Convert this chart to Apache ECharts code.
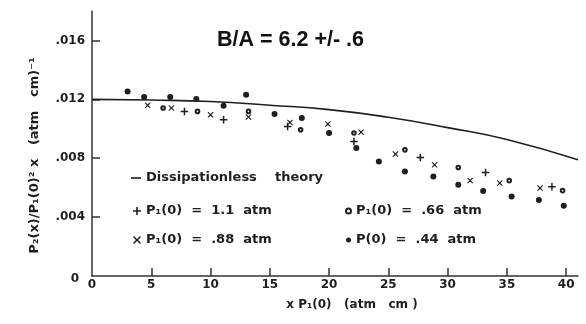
<!DOCTYPE html>
<html><head><meta charset="utf-8">
<script src="https://cdn.jsdelivr.net/npm/echarts@6/dist/echarts.min.js"></script>
<style>html,body{margin:0;padding:0;background:#fff}#c{width:586px;height:324px}</style>
</head><body><div id="c"></div>
<script>
// Theory curve
const theoryX = [0, 5, 10, 15, 20, 25, 30, 35, 41];
const theoryY = [0.0120, 0.01195, 0.01185, 0.01160, 0.01130, 0.01078, 0.01008, 0.00927, 0.00789];
// P1(0) = 1.1 atm (+)
const plusX = [7.8, 11.1, 16.5, 22.1, 27.7, 33.2, 38.8];
const plusY = [0.01118, 0.01061, 0.01016, 0.00914, 0.00805, 0.00703, 0.00607];
// P1(0) = .88 atm (x)
const crossX = [4.7, 6.7, 10.0, 13.2, 16.7, 19.9, 22.7, 25.6, 28.9, 31.9, 34.4, 37.8];
const crossY = [0.01159, 0.01141, 0.01095, 0.0108, 0.01043, 0.01032, 0.00977, 0.00828, 0.00755, 0.00648, 0.00631, 0.00597];
// P1(0) = .66 atm (open circle)
const circX = [6.0, 8.9, 13.2, 17.6, 22.1, 26.4, 30.9, 35.2, 39.7];
const circY = [0.01141, 0.01118, 0.01118, 0.00993, 0.00971, 0.00857, 0.00737, 0.00648, 0.0058];
// P(0) = .44 atm (dot)
const dotX = [3.0, 4.4, 6.6, 8.8, 11.1, 13.0, 15.4, 17.7, 20.0, 22.3, 24.2, 26.4, 28.8, 30.9, 33.0, 35.4, 37.7, 39.8];
const dotY = [0.01254, 0.01216, 0.01216, 0.01202, 0.01156, 0.01231, 0.0110, 0.01073, 0.00971, 0.00869, 0.00778, 0.0071, 0.00676, 0.00619, 0.00578, 0.0054, 0.00517, 0.00478];

const xTicks = [5, 10, 15, 20, 25, 30, 35, 40];
const xLabels = [0, 5, 10, 15, 20, 25, 30, 35, 40];
const yTicks = [0.004, 0.008, 0.012, 0.016];
const yLabels = [0, 0.004, 0.008, 0.012, 0.016];

const titleText = 'B/A = 6.2 +/- .6';
const names = ['Dissipationless theory', 'P₁(0) = 1.1 atm', 'P₁(0) = .88 atm', 'P₁(0) = .66 atm', 'P(0) = .44 atm'];

const zip = (a, b) => a.map((v, i) => [v, b[i]]);
const INK = '#1e1e1e';
const FONT = 'DejaVu Sans';
const PLUS = 'path://M4,0H6V4H10V6H6V10H4V6H0V4H4Z';
const CROSS = 'path://M1.2,0L5,3.6L8.8,0L10,1.2L6.4,5L10,8.8L8.8,10L5,6.4L1.2,10L0,8.8L3.6,5L0,1.2Z';
const LINEICON = 'path://M0,0H10V1.6H0Z';

const legendText = {color: INK, fontFamily: FONT, fontWeight: 'bold', fontSize: 13, lineHeight: 14};
const fmt = n => n.replace(' = ', '  =  ').replace(' atm', '  atm').replace(' theory', '    theory');

const chart = echarts.init(document.getElementById('c'), null, {renderer: 'canvas'});
chart.setOption({
  animation: false,
  backgroundColor: '#fff',
  title: {
    text: titleText, left: 212, top: 24,
    textStyle: {fontFamily: 'Liberation Sans', fontWeight: 'bold', fontSize: 21.5, color: '#111'}
  },
  grid: {left: 92, right: 8, top: 11, bottom: 48, containLabel: false},
  legend: [
    {data: [{name: names[0], icon: LINEICON}], left: 126, top: 166, itemWidth: 10, itemHeight: 2,
     textStyle: legendText, formatter: fmt, selectedMode: false},
    {data: [{name: names[1], icon: PLUS}, {name: names[2], icon: CROSS}], orient: 'vertical', left: 128, top: 199,
     itemWidth: 8, itemHeight: 8, itemGap: 15, textStyle: legendText, formatter: fmt, selectedMode: false},
    {data: [{name: names[3], icon: 'emptyCircle'}, {name: names[4], icon: 'circle'}], orient: 'vertical', left: 340, top: 199,
     itemWidth: 5, itemHeight: 5, itemGap: 15, textStyle: legendText, formatter: fmt, selectedMode: false}
  ],
  xAxis: {
    type: 'value', min: 0, max: 41,
    name: 'x P₁(0)   (atm   cm )', nameLocation: 'middle', nameGap: 23,
    nameTextStyle: {color: INK, fontFamily: FONT, fontWeight: 'bold', fontSize: 12, padding: [0, 0, 0, 34]},
    axisLine: {lineStyle: {color: '#333', width: 1.5}},
    axisTick: {show: true, inside: true, length: 8, lineStyle: {color: '#333', width: 1.5}, customValues: xTicks},
    axisLabel: {customValues: xLabels, margin: 3, color: INK, fontFamily: FONT, fontWeight: 'bold', fontSize: 12},
    splitLine: {show: false}
  },
  yAxis: {
    type: 'value', min: 0, max: 0.018,
    name: 'P₂(x)/P₁(0)² x   (atm   cm)⁻¹', nameLocation: 'middle', nameGap: 51, nameRotate: 90,
    nameTextStyle: {color: INK, fontFamily: FONT, fontWeight: 'bold', fontSize: 13, padding: [0, 24, 0, 0]},
    axisLine: {lineStyle: {color: '#333', width: 1.5}},
    axisTick: {show: true, inside: true, length: 8, lineStyle: {color: '#333', width: 1.5}, customValues: yTicks},
    axisLabel: {
      customValues: yLabels, margin: 7, color: INK, fontFamily: FONT, fontWeight: 'bold', fontSize: 12,
      formatter: v => v === 0 ? '{z|0}' : '.' + String(Math.round(v * 1000)).padStart(3, '0'),
      rich: {z: {padding: [6, 6, 0, 0], fontFamily: FONT, fontWeight: 'bold', fontSize: 12, color: INK}}
    },
    splitLine: {show: false}
  },
  series: [
    {name: names[0], type: 'line', data: zip(theoryX, theoryY), smooth: true, symbol: 'none',
     lineStyle: {color: INK, width: 1.6}, itemStyle: {color: INK}, z: 2},
    {name: names[1], type: 'scatter', data: zip(plusX, plusY), symbol: PLUS, symbolSize: 7.5,
     itemStyle: {color: INK, opacity: 1}},
    {name: names[2], type: 'scatter', data: zip(crossX, crossY), symbol: CROSS, symbolSize: 6,
     itemStyle: {color: INK, opacity: 1}},
    {name: names[3], type: 'scatter', data: zip(circX, circY), symbol: 'emptyCircle', symbolSize: 3.6,
     itemStyle: {color: INK, borderColor: INK, borderWidth: 1.2, opacity: 1}},
    {name: names[4], type: 'scatter', data: zip(dotX, dotY), symbol: 'circle', symbolSize: 6,
     itemStyle: {color: INK, opacity: 1}}
  ]
});
</script></body></html>
